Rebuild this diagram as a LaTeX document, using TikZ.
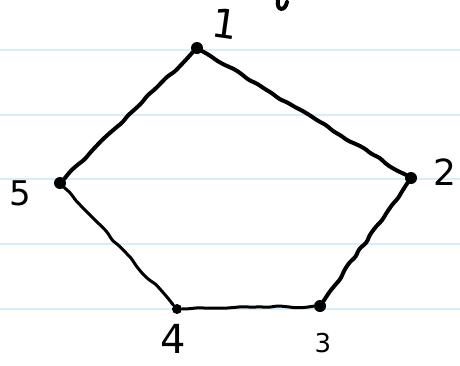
\documentclass[tikz,border=0pt]{standalone}
\usepackage{fontspec}
\setmainfont{DejaVu Sans}
\usetikzlibrary{decorations.pathmorphing}
\definecolor{cRule}{HTML}{D6EEF9}
\tikzset{
  vtx/.style  ={circle, fill=black, inner sep=0pt, minimum size=12pt},
  num/.style  ={font=\fontsize{36}{36}\selectfont, inner sep=0pt},
  edg/.style  ={draw=black, line width=4pt, line cap=round, line join=round,
                decorate, decoration={random steps, segment length=9pt, amplitude=1.3pt},
                rounded corners=3pt},
  thin/.style ={line width=3pt},
  rule/.style ={draw=cRule, line width=1.2pt},
}
\pgfmathsetseed{7}
\begin{document}
\begin{tikzpicture}[x=1pt,y=-1pt]
  \useasboundingbox (0,0) rectangle (460,365);
  \fill[white] (0,0) rectangle (460,365);
  % ruled paper
  \foreach \y in {50,115,179,244,309} \draw[rule] (0,\y) -- (460,\y);
  % vertices
  \node[vtx] (v1) at (197,48) {};
  \node[vtx] (v2) at (411,178) {};
  \node[vtx] (v3) at (320,306) {};
  \node[vtx, minimum size=10pt] (v4) at (177,309) {};
  \node[vtx] (v5) at (60,183) {};
  % labels
  \node[num, rotate=-8, font=\fontsize{40}{40}\selectfont] (l1) at (225,24) {1};
  \node[num] (l2) at (445,172) {2};
  \node[num, font=\fontsize{26}{26}\selectfont] (l3) at (323,343) {3};
  \node[num, font=\fontsize{40}{40}\selectfont, text depth=0pt] (l4) at (173,339) {4};
  \node[num, font=\fontsize{34}{34}\selectfont] (l5) at (20,193) {5};
  % edges
  \draw[edg] (v1) -- (v2);
  \draw[edg] (v2) -- (v3);
  \draw[edg, thin] (v3) -- (v4);
  \draw[edg, thin] (v4) -- (v5);
  \draw[edg] (v5) -- (v1);
  % stroke cut off at the top
  \draw[line width=4pt, line cap=round] (278,0) .. controls (276,11) and (285,12) .. (287,2);
\end{tikzpicture}
\end{document}
